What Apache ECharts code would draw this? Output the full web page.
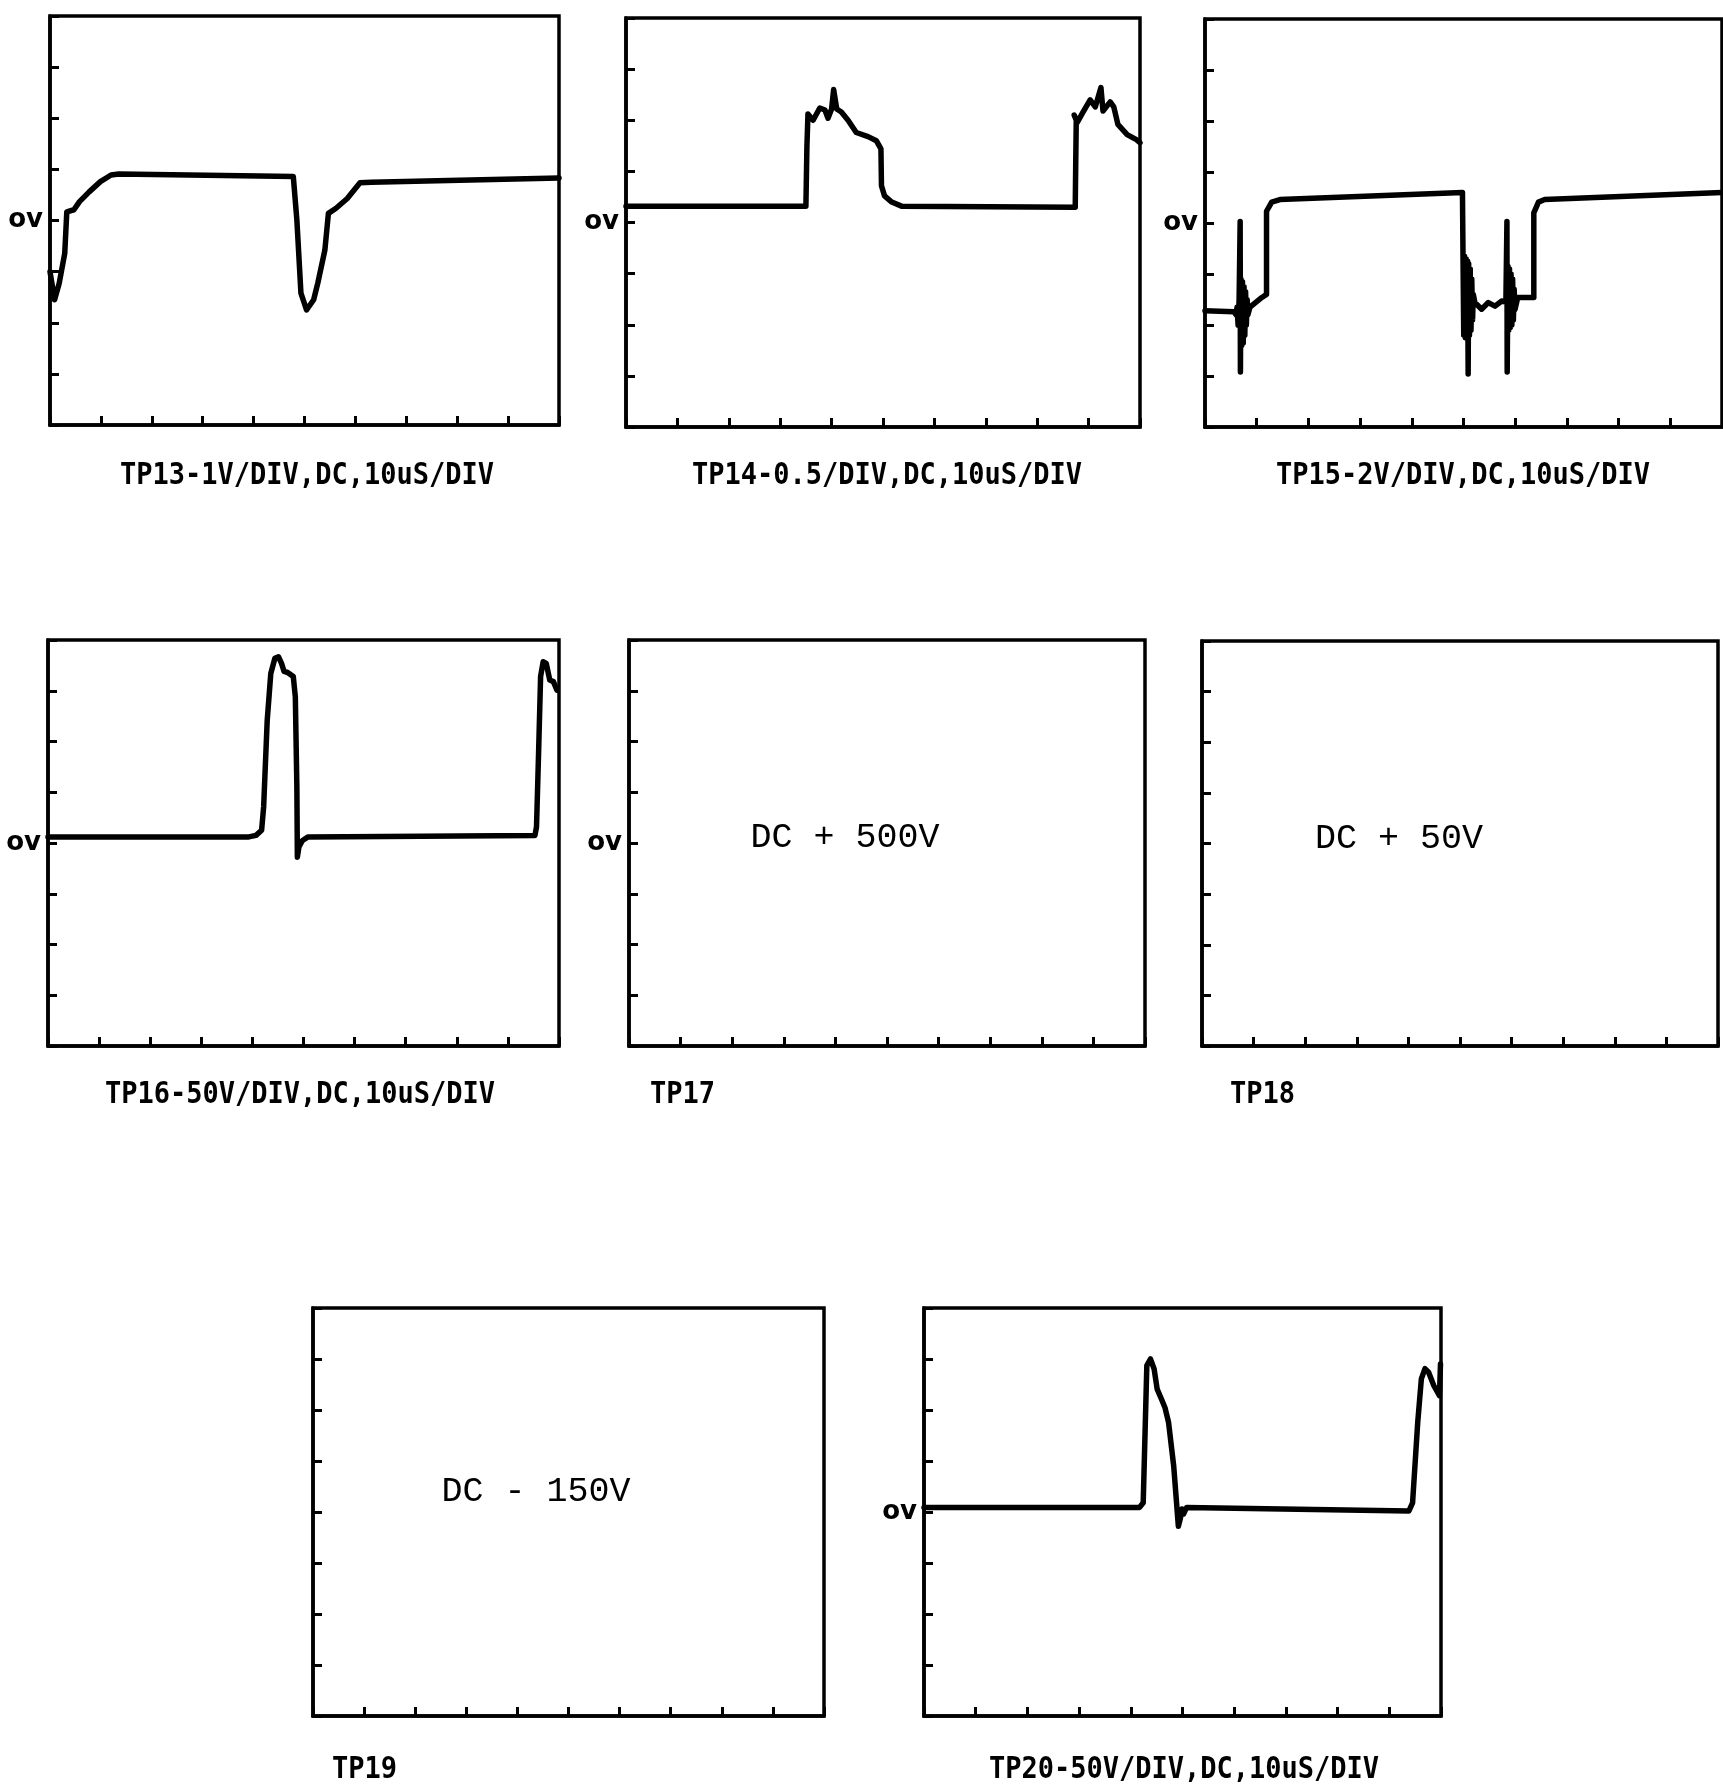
<!DOCTYPE html>
<html>
<head>
<meta charset="utf-8">
<script src="https://cdn.jsdelivr.net/npm/echarts@6/dist/echarts.min.js"></script>
<style>
  html, body { margin: 0; padding: 0; background: #fff; }
  #chart { width: 1723px; height: 1788px; }
</style>
</head>
<body>
<div id="chart"></div>
<script>
// Oscilloscope traces, each point is [time (µs), voltage (V)]
const tp13 = [
  [0, -1.0], [0.9, -1.55], [1.8, -1.23], [2.9, -0.64], [3.3, 0.17], [4.7, 0.21],
  [5.8, 0.37], [7.7, 0.56], [9.9, 0.76], [12.0, 0.89], [13.5, 0.91], [47.8, 0.86],
  [48.5, 0.01], [49.3, -1.42], [50.4, -1.75], [51.8, -1.55], [52.6, -1.23], [54.0, -0.58],
  [54.7, 0.14], [56.2, 0.24], [58.4, 0.43], [60.9, 0.74], [63.1, 0.75], [100, 0.83]
];

const tp14 = [
  [0, 0.16], [35.0, 0.16], [35.2, 0.75], [35.4, 1.06], [36.4, 1.0], [37.7, 1.12],
  [38.7, 1.1], [39.3, 1.02], [40.0, 1.11], [40.4, 1.3], [41.0, 1.11], [41.9, 1.08],
  [43.2, 1.0], [44.8, 0.88], [47.1, 0.84], [48.7, 0.8], [49.6, 0.72], [49.7, 0.36],
  [50.3, 0.26], [51.7, 0.2], [53.6, 0.16], [87.4, 0.15], [87.5, 0.6], [87.6, 1.0],
  [87.2, 1.05], [87.8, 0.98], [88.8, 1.07], [90.3, 1.2], [91.3, 1.13], [92.4, 1.32],
  [92.8, 1.09], [94.2, 1.18], [94.9, 1.13], [95.7, 0.96], [97.5, 0.86], [99.3, 0.81],
  [100, 0.78]
];

// switching edges carry ringing bursts, traced as fast swings
const tp15 = [
  [0, -3.44], [5.6, -3.48], [6.0, -3.6], [6.2, -3.3], [6.4, -4.0], [6.6, -3.0],
  [6.8, 0.06], [6.85, -5.84], [6.95, -2.2], [7.1, -4.8], [7.25, -2.3], [7.4, -4.7],
  [7.55, -2.5], [7.7, -4.4], [7.85, -2.7], [8.0, -4.0], [8.15, -3.0], [8.3, -3.6],
  [8.7, -3.3], [11.0, -2.92], [11.9, -2.8], [11.9, 0.46], [12.9, 0.82], [14.5, 0.92],
  [49.8, 1.2], [49.9, -1.2], [50.05, -4.4], [50.2, -1.3], [50.35, -4.5], [50.5, -1.4],
  [50.65, -4.5], [50.8, -1.5], [50.9, -5.92], [51.0, -1.6], [51.15, -4.4], [51.3, -1.8],
  [51.45, -4.2], [51.6, -2.2], [51.75, -3.8], [51.9, -2.8], [52.2, -3.12], [53.5, -3.38],
  [54.8, -3.12], [56.1, -3.26], [57.4, -3.06], [58.2, -3.1], [58.4, 0.06], [58.45, -5.84],
  [58.6, -1.7], [58.75, -4.2], [58.9, -1.8], [59.05, -4.1], [59.2, -2.0], [59.35, -4.0],
  [59.5, -2.2], [59.65, -3.8], [59.8, -2.6], [59.95, -3.4], [60.5, -2.92], [63.6, -2.92],
  [63.6, 0.4], [64.5, 0.82], [65.7, 0.92], [100, 1.2]
];

const tp16 = [
  [0, 6], [39.3, 6], [40.7, 7.5], [41.8, 12.5], [42.2, 35.5], [42.9, 121], [43.6, 167],
  [44.4, 182], [45.1, 183.5], [45.7, 177], [46.2, 169], [46.9, 168], [48.0, 164],
  [48.4, 144], [48.7, 55.5], [48.8, -14], [49.1, -4], [49.8, 2.5], [50.9, 6], [95.3, 7.5],
  [95.6, 16], [96.0, 88], [96.4, 164], [96.9, 178.5], [97.5, 177], [98.2, 160.5],
  [98.9, 159], [99.6, 150.5]
];

const tp20 = [
  [0, 4.5], [41.7, 4.5], [42.4, 9], [43.1, 143.5], [43.8, 150], [44.5, 140.5],
  [45.1, 120.5], [45.9, 111], [46.6, 102.5], [47.3, 88], [48.3, 45], [49.2, -14],
  [49.6, -6], [49.9, 3], [50.2, -2], [50.8, 4.5], [93.8, 1], [94.5, 9], [95.5, 88],
  [96.2, 130.5], [96.9, 140.5], [97.6, 137], [98.6, 124], [99.7, 114], [99.9, 145]
];

// Vertical sensitivity (V per division) for each channel; null = DC reading only
const voltsPerDiv = [1, 0.5, 2, 50, null, null, null, 50];

const captions = [
  'TP13-1V/DIV,DC,10uS/DIV', 'TP14-0.5/DIV,DC,10uS/DIV', 'TP15-2V/DIV,DC,10uS/DIV',
  'TP16-50V/DIV,DC,10uS/DIV', 'TP17', 'TP18', 'TP19', 'TP20-50V/DIV,DC,10uS/DIV'
];

const dcReadings = ['DC + 500V', 'DC + 50V', 'DC - 150V'];

const zeroLabel = 'ov';

// ---- layout ----
const traces = [tp13, tp14, tp15, tp16, null, null, null, tp20];
const boxes = [
  [50, 16, 509, 409], [626, 18, 514, 409], [1205, 19, 517, 408],
  [48, 640, 511, 406], [629, 640, 516, 406], [1202, 641, 516, 405],
  [313, 1308, 511, 408], [924, 1308, 517, 408]
];
const showZero = [true, true, true, true, true, false, false, true];
// caption anchor: [x, y, align]
const captionPos = [
  [307, 476, 'center'], [887, 476, 'center'], [1463, 476, 'center'],
  [300, 1095, 'center'], [650, 1095, 'left'], [1230, 1095, 'left'],
  [332, 1770, 'left'], [1184, 1770, 'center']
];
const dcPos = [[845, 838], [1399, 839], [536, 1492]];

const grid = [], xAxis = [], yAxis = [], series = [], graphic = [];
const ink = '#000';

boxes.forEach((b, i) => {
  grid.push({
    left: b[0], top: b[1], width: b[2], height: b[3],
    show: true, borderColor: ink, borderWidth: 3.5, backgroundColor: 'transparent'
  });
  const vpd = voltsPerDiv[i] || 1;
  xAxis.push({
    type: 'value', gridIndex: i, min: 0, max: 100, interval: 10,
    axisLine: { show: true, onZero: false, lineStyle: { color: ink, width: 3.5 } },
    axisTick: { show: true, inside: true, length: 9, lineStyle: { color: ink, width: 3 } },
    axisLabel: { show: false }, splitLine: { show: false }
  });
  yAxis.push({
    type: 'value', gridIndex: i, min: -4 * vpd, max: 4 * vpd, interval: vpd,
    axisLine: { show: true, onZero: false, lineStyle: { color: ink, width: 3.5 } },
    axisTick: { show: true, inside: true, length: 9, lineStyle: { color: ink, width: 3 } },
    axisLabel: {
      show: showZero[i], margin: 7, color: ink,
      fontFamily: 'DejaVu Sans', fontWeight: 'bold', fontSize: 26,
      padding: [0, 0, 8, 0],
      formatter: v => (Math.abs(v) < 1e-9 ? zeroLabel : '')
    },
    splitLine: { show: false }
  });
  if (traces[i]) {
    series.push({
      type: 'line', xAxisIndex: i, yAxisIndex: i, data: traces[i],
      showSymbol: false, symbol: 'none', smooth: false, clip: true,
      lineStyle: { color: ink, width: 5.5, join: 'round', cap: 'round' }
    });
  }
  const c = captionPos[i];
  // condensed caption lettering: narrowed about the anchor point
  graphic.push({
    type: 'text', x: c[0], y: c[1], scaleX: 0.9, originX: 0, originY: 0,
    style: {
      text: captions[i], fill: ink,
      font: 'bold 30px "DejaVu Sans Mono"',
      textAlign: c[2], align: c[2],
      textVerticalAlign: 'middle', verticalAlign: 'middle'
    }
  });
});

dcReadings.forEach((t, k) => {
  graphic.push({
    type: 'text', x: dcPos[k][0], y: dcPos[k][1],
    style: {
      text: t, fill: ink,
      font: '35px "Liberation Mono"',
      textAlign: 'center', align: 'center',
      textVerticalAlign: 'middle', verticalAlign: 'middle'
    }
  });
});

const chart = echarts.init(document.getElementById('chart'), null, { renderer: 'canvas' });
chart.setOption({
  backgroundColor: '#fff',
  animation: false,
  grid, xAxis, yAxis, series, graphic
});
</script>
</body>
</html>
